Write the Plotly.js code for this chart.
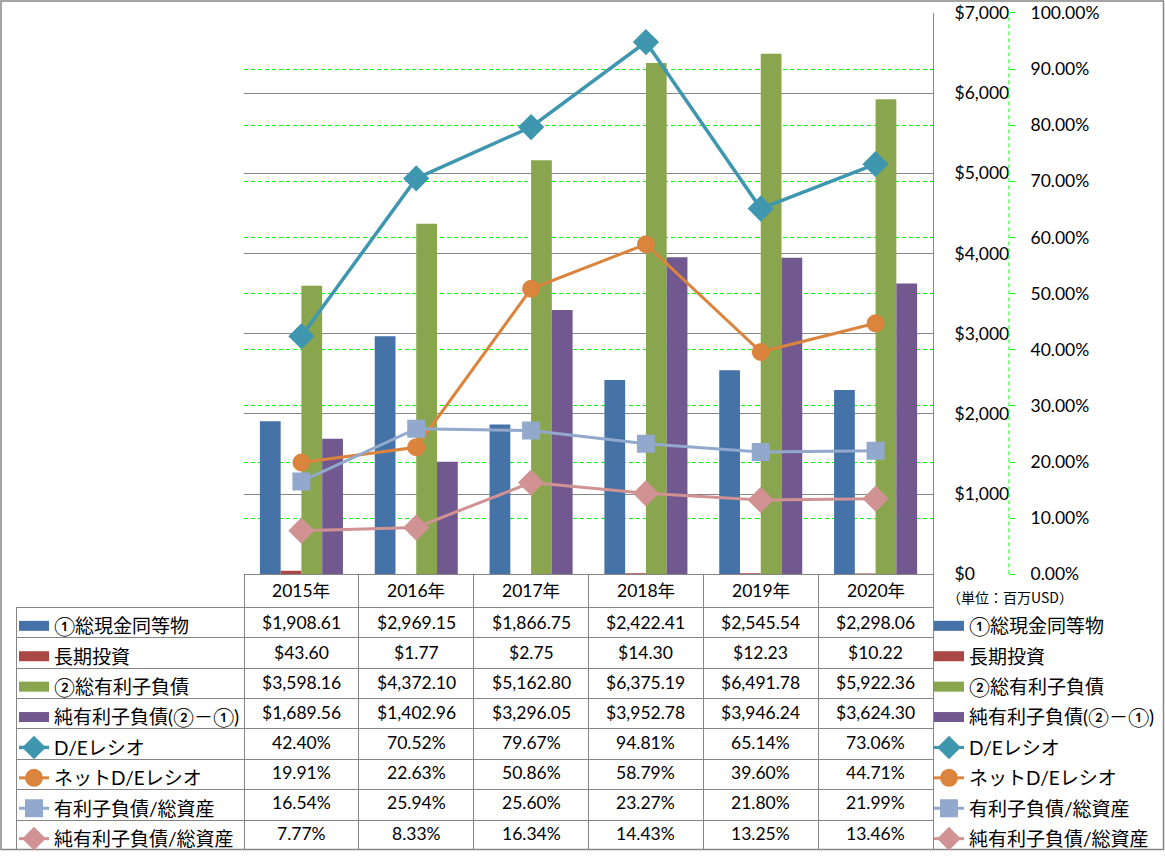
<!DOCTYPE html>
<html><head><meta charset="utf-8">
<script src="https://cdn.plot.ly/plotly-3.0.1.min.js"></script>
<style>body{margin:0;background:#fff;} #chart{width:1165px;height:858px;}</style>
</head><body><div id="chart"></div>
<script>
const years = ['2015年','2016年','2017年','2018年','2019年','2020年'];
const cashEq = [1908.61, 2969.15, 1866.75, 2422.41, 2545.54, 2298.06];
const longInv = [43.60, 1.77, 2.75, 14.30, 12.23, 10.22];
const totalDebt = [3598.16, 4372.10, 5162.80, 6375.19, 6491.78, 5922.36];
const netDebt = [1689.56, 1402.96, 3296.05, 3952.78, 3946.24, 3624.30];
const deRatio = [42.40, 70.52, 79.67, 94.81, 65.14, 73.06];
const netDeRatio = [19.91, 22.63, 50.86, 58.79, 39.60, 44.71];
const debtToAssets = [16.54, 25.94, 25.60, 23.27, 21.80, 21.99];
const netDebtToAssets = [7.77, 8.33, 16.34, 14.43, 13.25, 13.46];
const barNames = ['①総現金同等物','長期投資','②総有利子負債','純有利子負債(②－①)'];
const lineNames = ['D/Eレシオ','ネットD/Eレシオ','有利子負債/総資産','純有利子負債/総資産'];
const unitNote = '（単位：百万USD）';

const W = 1165, H = 858;
const FONT = "Lato, 'Noto Sans CJK JP', sans-serif";
const GREY = '#868686';
const barColors = ['#4572A7','#AA4643','#89A54E','#71588F'];
const lineColors = ['#3F97AF','#DB843D','#92A8CD','#D09293'];
const lineSymbols = ['diamond','circle','square','diamond'];
const lineSizes = [18,16,16,18];
const lineWidths = [3.5,3,3,3];

const barSeries = [cashEq, longInv, totalDebt, netDebt];
const lineSeries = [deRatio, netDeRatio, debtToAssets, netDebtToAssets];

const plotTop = 13, plotBottom = 579, plotLeft = 244, plotRight = 933;
const headerH = 33, rowH = 30.4;

const traces = [];
// real bars
barSeries.forEach((vals, i) => {
  traces.push({type:'bar', x: years, y: vals, name: barNames[i], marker:{color: barColors[i]},
    offsetgroup: 'g'+i, showlegend:false, xaxis:'x', yaxis:'y', hoverinfo:'skip'});
});
// legend entries for bars (left legend + right legend)
['legend','legend2'].forEach(lg => {
  barSeries.forEach((vals, i) => {
    traces.push({type:'scatter', mode:'lines', x:[years[0]], y:[null], name: barNames[i],
      line:{color: barColors[i], width:10}, legend: lg, legendgroup: lg+'b'+i, legendrank: i+1,
      xaxis:'x', yaxis:'y2', hoverinfo:'skip'});
  });
});
// real lines (left legend)
lineSeries.forEach((vals, i) => {
  traces.push({type:'scatter', mode:'lines+markers', x: years, y: vals.map(v => v/100), name: lineNames[i],
    line:{color: lineColors[i], width: lineWidths[i]},
    marker:{symbol: lineSymbols[i], size: lineSizes[i], color: lineColors[i], line:{color: lineColors[i], width:2}},
    legend:'legend', legendgroup:'legendl'+i, legendrank: 5+i, xaxis:'x', yaxis:'y2', hoverinfo:'skip'});
});
// right legend line entries
lineSeries.forEach((vals, i) => {
  traces.push({type:'scatter', mode:'lines+markers', x:[years[0]], y:[null], name: lineNames[i],
    line:{color: lineColors[i], width: 3},
    marker:{symbol: lineSymbols[i], size: lineSizes[i], color: lineColors[i], line:{color: lineColors[i], width:2}},
    legend:'legend2', legendgroup:'legend2l'+i, legendrank: 5+i, xaxis:'x', yaxis:'y2', hoverinfo:'skip'});
});

// data table grid
const fmtUsd = v => '$' + v.toLocaleString('en-US', {minimumFractionDigits:2, maximumFractionDigits:2});
const fmtPct = v => v.toFixed(2) + '%';
const rowsText = [...barSeries.map(s => s.map(fmtUsd)), ...lineSeries.map(s => s.map(fmtPct))];
const catW = (plotRight - plotLeft) / years.length;
traces.push({
  type:'table',
  domain:{x:[16/W, plotRight/W], y:[1/H, 1 - plotBottom/H]},
  columnwidth:[plotLeft - 16, ...years.map(() => catW)],
  header:{values:['', ...years.map(() => '')], height:headerH,
    fill:{color:'#fff'}, line:{color:GREY, width:[0, ...years.map(() => 1)]}},
  cells:{values:[Array(8).fill(''), ...years.map(() => Array(8).fill(''))],
    height:rowH, fill:{color:'#fff'}, line:{color:GREY, width:1}}
});

// table text via annotations positioned on the category axis
const annotations = [];
years.forEach((y, j) => {
  annotations.push({text: y, xref:'x', yref:'paper', x: y, y: 1 - (plotBottom + headerH/2)/H,
    xanchor:'center', yanchor:'middle', showarrow:false, font:{family:FONT, size:17.5, color:'#000'}});
  rowsText.forEach((row, k) => {
    annotations.push({text: row[j], xref:'x', yref:'paper', x: y,
      y: 1 - (plotBottom + headerH + rowH*k + rowH/2)/H,
      xanchor:'center', yanchor:'middle', showarrow:false, font:{family:FONT, size:17.5, color:'#000'}});
  });
});
annotations.push({text: unitNote, xref:'paper', yref:'paper', x:945/W, y:1 - 602/H, xanchor:'left', yanchor:'middle',
  showarrow:false, font:{family:"'Noto Sans CJK JP', sans-serif", size:14, color:'#000'}});

const layout = {
  width: W, height: H,
  margin:{l:0, r:0, t:0, b:0},
  paper_bgcolor:'#fff', plot_bgcolor:'rgba(0,0,0,0)',
  font:{family:FONT, size:17.5, color:'#000'},
  barmode:'group', bargap:0.277, bargroupgap:0,
  xaxis:{domain:[plotLeft/W, plotRight/W], type:'category', showline:true, linecolor:GREY, linewidth:1,
    showticklabels:false, ticks:'', showgrid:false, zeroline:false, fixedrange:true},
  yaxis:{domain:[1 - plotBottom/H, 1 - plotTop/H], range:[0,7000], dtick:1000, side:'right',
    tickprefix:'$', tickformat:',d', showline:true, linecolor:GREY, linewidth:1,
    gridcolor:GREY, gridwidth:1, zeroline:false, ticks:'', ticklabelstandoff:17,
    tickfont:{family:FONT, size:17.5, color:'#000'}},
  yaxis2:{overlaying:'y', side:'right', anchor:'free', position:1009/W, range:[0,1], dtick:0.1,
    tickformat:'.2%', gridcolor:'#00FF00', griddash:'4px,3px', gridwidth:1, zeroline:false,
    showline:false, ticks:'outside', ticklen:5, tickcolor:'#00FF00', tickwidth:1, ticklabelstandoff:12,
    tickfont:{family:FONT, size:17.5, color:'#000'}},
  legend:{x:14/W, y:1 - 612/H, xanchor:'left', yanchor:'top', traceorder:'grouped', tracegroupgap:2.7,
    font:{family:FONT, size:19, color:'#000'}, bgcolor:'rgba(0,0,0,0)', borderwidth:0, itemclick:false},
  legend2:{x:929/W, y:1 - 612/H, xanchor:'left', yanchor:'top', traceorder:'grouped', tracegroupgap:2.7,
    font:{family:FONT, size:19, color:'#000'}, bgcolor:'rgba(0,0,0,0)', borderwidth:0, itemclick:false},
  annotations: annotations,
  shapes:[
    {type:'line', xref:'paper', yref:'y domain', x0:1009/W, x1:1009/W, y0:0, y1:1,
      line:{color:'#00FF00', width:1, dash:'4px,3px'}},
    {type:'rect', xref:'paper', yref:'paper', x0:1/W, x1:1 - 1.5/W, y0:1.5/H, y1:1 - 1/H,
      line:{color:GREY, width:1.5}, layer:'above'}
  ],
  showlegend:true
};

Plotly.newPlot('chart', traces, layout, {displayModeBar:false, staticPlot:true});
</script>
</body></html>
